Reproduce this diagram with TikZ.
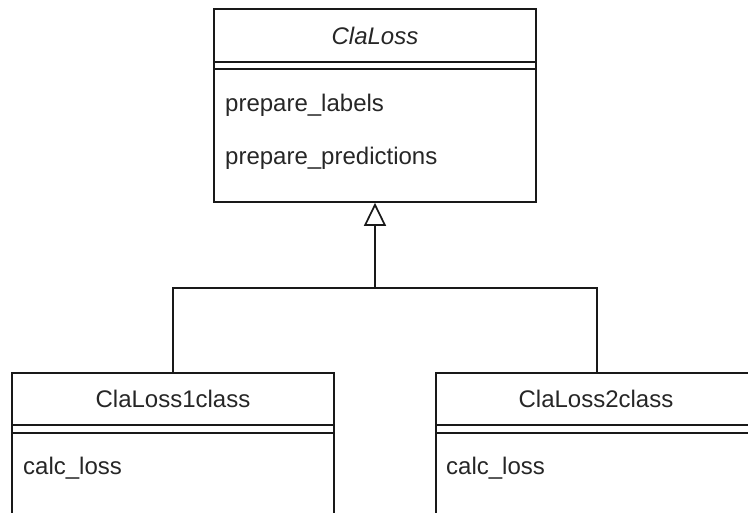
\documentclass[tikz,border=0pt]{standalone}
\usepackage{fontspec}
\setmainfont{Liberation Sans}
\usetikzlibrary{arrows.meta}
\begin{document}
\begin{tikzpicture}[x=1pt,y=-1pt,
  umlbox/.style={draw=black!90, line width=1.7pt, rectangle, inner sep=0pt,
                 minimum width=322pt, minimum height=#1},
  sepline/.style={draw=black!90, line width=1.7pt},
  label/.style={inner sep=0pt, font=\fontsize{24}{28}\selectfont, text=black!85},
  inherit/.style={draw=black!90, line width=1.7pt},
  gentip/.style={-{Triangle[open,length=23pt,width=22pt,line width=1.7pt]}}
]
\useasboundingbox (0,0) rectangle (748,513);

% superclass
\node[umlbox=193pt] (base) at (375,105.5) {};
\draw[sepline] (base.west |- 0,62) -- (base.east |- 0,62);
\draw[sepline] (base.west |- 0,69) -- (base.east |- 0,69);
\node[label, anchor=base, font=\fontsize{24}{28}\selectfont\itshape] (baseName) at (375,45) {ClaLoss};
\node[label, anchor=base west] (m1) at (225,112) {prepare\_labels};
\node[label, anchor=base west] (m2) at (225,165) {prepare\_predictions};

% first subclass
\node[umlbox=180pt] (sub1) at (173,463) {};
\draw[sepline] (sub1.west |- 0,425) -- (sub1.east |- 0,425);
\draw[sepline] (sub1.west |- 0,433) -- (sub1.east |- 0,433);
\node[label, anchor=base] (sub1Name) at (173,407) {ClaLoss1class};
\node[label, anchor=base west] (sub1m) at (23,475) {calc\_loss};

% second subclass
\node[umlbox=180pt] (sub2) at (597,463) {};
\draw[sepline] (sub2.west |- 0,425) -- (sub2.east |- 0,425);
\draw[sepline] (sub2.west |- 0,433) -- (sub2.east |- 0,433);
\node[label, anchor=base] (sub2Name) at (596,407) {ClaLoss2class};
\node[label, anchor=base west] (sub2m) at (446,475) {calc\_loss};

% generalization connectors
\coordinate (joint) at (375,288);
\draw[inherit] (sub1.north) |- (joint) -| (sub2.north);
\draw[inherit, gentip] (joint) -- (base.south);
\end{tikzpicture}
\end{document}
